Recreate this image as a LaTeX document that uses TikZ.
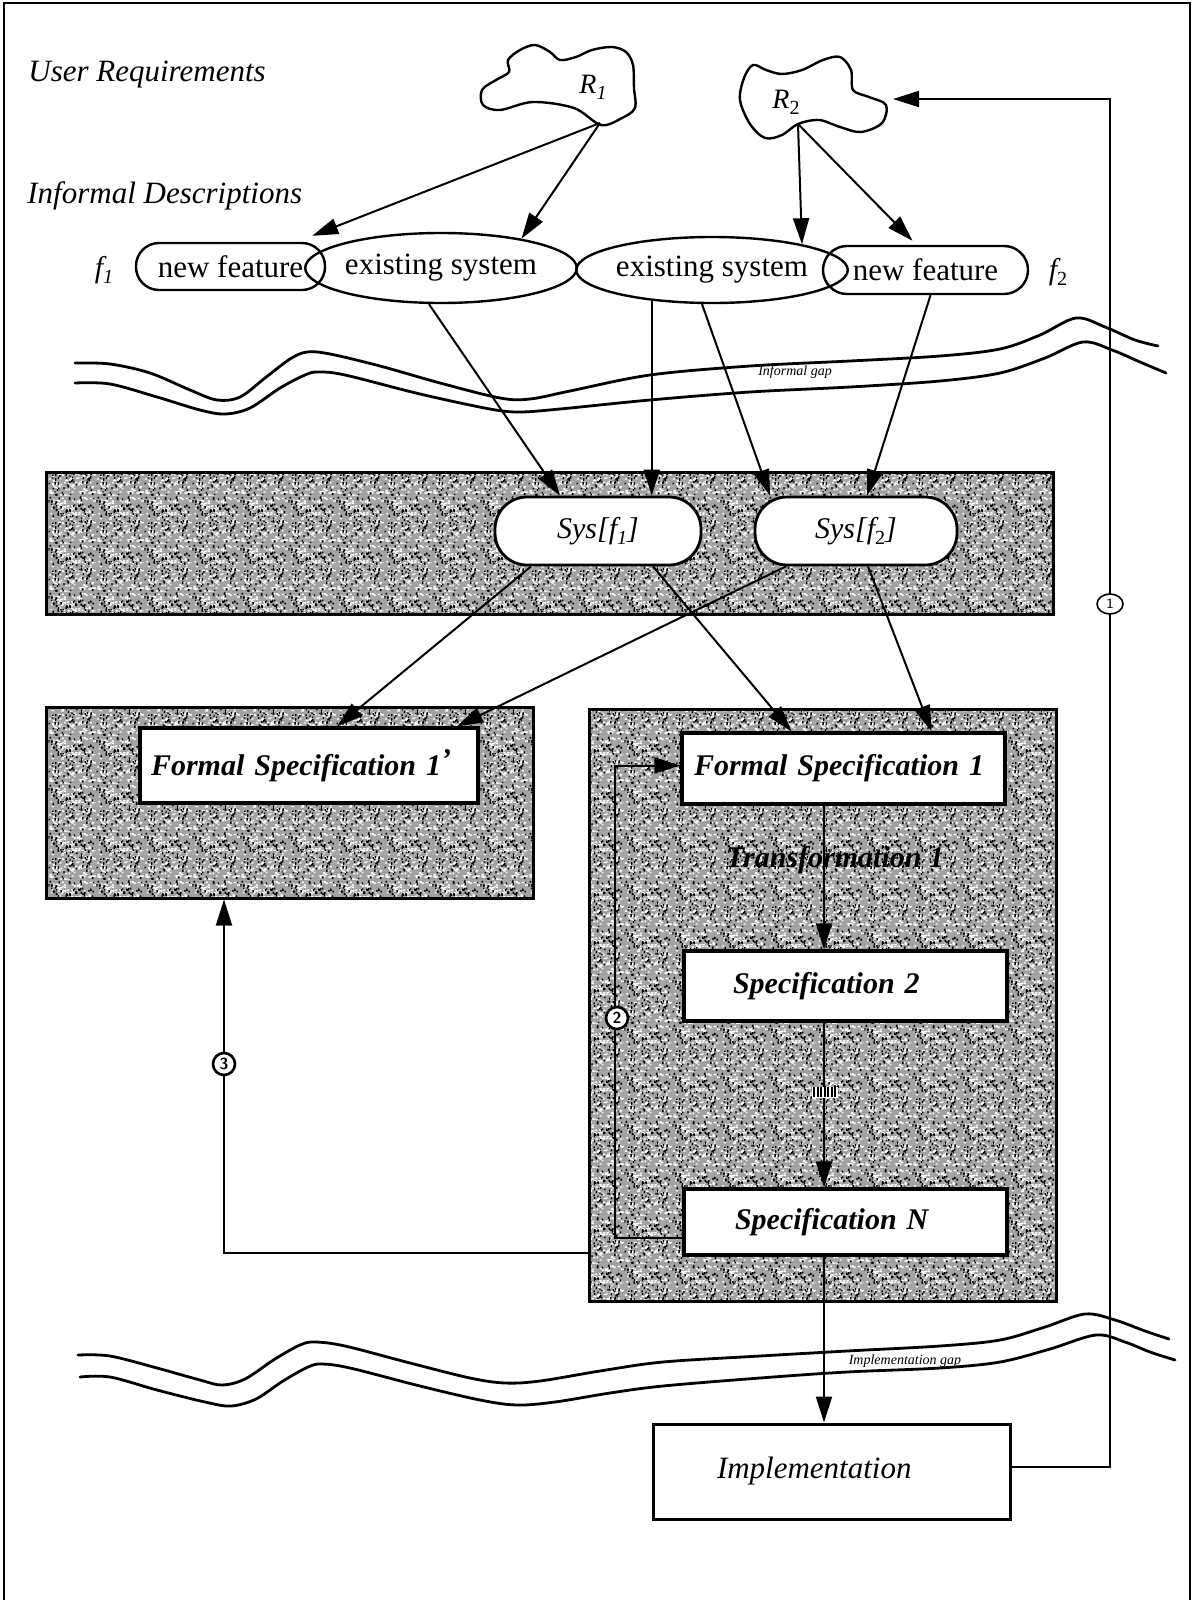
\documentclass[tikz,border=0pt]{standalone}
\usepackage{fontspec}
\setmainfont{Liberation Serif}
\usetikzlibrary{arrows.meta,calc,shapes.geometric,patterns.meta}

% grainy screen used for the grouping panels
\pgfdeclarepattern{
  name=grain,
  type=colored,
  bottom left={\pgfpoint{0pt}{0pt}},
  top right={\pgfpoint{24pt}{24pt}},
  tile size={\pgfpoint{24pt}{24pt}},
  code={
    \pgfmathsetseed{4711}
    \pgfsetcolor{white}
    \foreach \k in {1,...,200}{
      \pgfmathsetmacro\gx{rnd*23}
      \pgfmathsetmacro\gy{rnd*23.3}
      \pgfmathsetmacro\gw{0.6+rnd*0.8}
      \pgfpathrectangle{\pgfpoint{\gx pt}{\gy pt}}{\pgfpoint{\gw pt}{0.7pt}}
      \pgfusepath{fill}
    }
    \pgfsetcolor{black}
    \foreach \k in {1,...,120}{
      \pgfmathsetmacro\gx{rnd*23}
      \pgfmathsetmacro\gy{rnd*23.3}
      \pgfmathsetmacro\gw{0.6+rnd*0.8}
      \pgfpathrectangle{\pgfpoint{\gx pt}{\gy pt}}{\pgfpoint{0.7pt}{\gw pt}}
      \pgfusepath{fill}
    }
  }
}

\newcommand{\lowsub}[1]{\raisebox{-0.45ex}{\fontsize{10}{10}\selectfont #1}}

\tikzset{
  conn/.style={line width=1pt, -{Triangle[length=13pt,width=8pt]}},
  panel/.style={draw, line width=1.5pt, fill=black!36, inner sep=0pt,
    postaction={pattern=grain}, postaction={draw, line width=1.5pt}},
  specbox/.style={draw, line width=1.6pt, fill=white, inner ysep=0pt, align=left,
    font=\bfseries\itshape\fontsize{15}{18}\selectfont},
  featbox/.style={draw, line width=1.2pt, rounded corners=11.5pt, inner sep=0pt,
    font=\fontsize{15.5}{18}\selectfont},
  sysell/.style={draw, ellipse, line width=1.2pt, inner sep=0pt,
    font=\fontsize{15.5}{18}\selectfont},
  sysbox/.style={draw, line width=1.4pt, fill=white, rounded corners=16pt, inner sep=0pt,
    font=\itshape\fontsize{15}{18}\selectfont},
  cloud/.style={line width=1.2pt},
  wave/.style={line width=1.4pt, line cap=round},
  heading/.style={font=\itshape\fontsize{15.5}{18}\selectfont, inner sep=0pt},
  gaplabel/.style={font=\itshape\fontsize{7}{8}\selectfont, inner sep=0pt},
  circnum/.style={circle, draw, line width=1.3pt, fill=white, inner sep=0pt,
    minimum size=11pt, font=\sffamily\bfseries\fontsize{8}{8}\selectfont},
}

\begin{document}
\begin{tikzpicture}[x=0.5pt,y=-0.5pt]
\useasboundingbox (0,0) rectangle (1193,1600);

% page frame
\draw[line width=1pt] (4,1600) -- (4,3) -- (1190,3) -- (1190,1600);

% headings
\node[heading, anchor=base west] (hdreq) at (28,82) {User Requirements};
\node[heading, anchor=base west] (hdinf) at (27,203) {Informal Descriptions};

% requirement clouds
\draw[cloud] plot[smooth cycle, tension=0.55] coordinates {
  (601,125) (574,108) (533,102) (500,110) (483,105) (482,90) (496,80) (509,72)
  (508,60) (520,50) (535,45) (550,52) (560,60) (576,57) (592,50) (612,47)
  (626,52) (633,65) (634,88) (635,108) (622,118)};
\coordinate (r1tip) at (600,123);
\node[font=\itshape\fontsize{14}{16}\selectfont, inner sep=0pt] (r1) at (593,87) {R\lowsub{\itshape 1}};

\draw[cloud] plot[smooth cycle, tension=0.55] coordinates {
  (798,124) (782,135) (765,138) (750,124) (740,100) (744,78) (753,65) (766,70)
  (782,74) (802,70) (823,60) (840,57) (851,70) (853,90) (869,97) (886,105)
  (882,123) (861,132) (840,127) (819,120)};
\coordinate (r2tip) at (798,124);
\coordinate (r2east) at (893,99);
\node[font=\itshape\fontsize{14}{16}\selectfont, inner sep=0pt] (r2) at (786,102) {R\lowsub{\upshape 2}};

% informal descriptions
\node[font=\itshape\fontsize{15}{18}\selectfont, inner sep=0pt] (f1) at (104,270) {f\lowsub{\itshape 1}};
\node[featbox, minimum width=94.5pt, minimum height=23.5pt] (nfL) at (230.5,266.5) {new feature};
\node[sysell, minimum width=131pt, minimum height=35pt] (esL) at (441,268) {existing system};
\node[sysell, minimum width=129pt, minimum height=33pt] (esR) at (712,270) {existing system};
\node[featbox, rounded corners=12pt, minimum width=102.5pt, minimum height=24pt] (nfR) at (925.5,270) {new feature};
\node[font=\itshape\fontsize{15}{18}\selectfont, inner sep=0pt] (f2) at (1058,272) {f\lowsub{\upshape 2}};

% informal gap
\draw[wave] plot[smooth, tension=0.55] coordinates {
  (75,363) (110,364) (150,373) (190,390) (217,400) (240,397) (265,378) (290,359)
  (307,352) (330,354) (380,366) (440,383) (500,398) (530,399) (570,391) (650,375)
  (750,366) (850,361) (940,356) (1000,349) (1040,335) (1076,318) (1105,327)
  (1135,340) (1158,346)};
\draw[wave] plot[smooth, tension=0.55] coordinates {
  (75,383) (110,384) (157,397) (200,410) (225,414) (250,408) (280,388) (305,375)
  (318,372) (345,375) (420,394) (490,409) (520,412) (560,409) (650,400) (750,392)
  (850,387) (940,381) (1000,373) (1045,358) (1083,342) (1112,350) (1140,362)
  (1166,373)};
\node[gaplabel] (infgap) at (795,372) {Informal gap};

% grouping panels
\node[panel, minimum width=503.5pt, minimum height=71pt] (sysband) at (549.5,543) {};
\node[panel, minimum width=243.5pt, minimum height=95.5pt] (leftband) at (289.5,802.5) {};
\node[panel, minimum width=233.5pt, minimum height=296pt] (rightband) at (822.5,1005) {};

% system views
\node[sysbox, minimum width=103pt, minimum height=34pt] (sys1) at (598,531) {Sys[f\lowsub{\itshape 1}]};
\node[sysbox, minimum width=101pt, minimum height=34pt] (sys2) at (856,531) {Sys[f\lowsub{\upshape 2}]};

% specifications
\node[specbox, text width=158pt, inner xsep=5.5pt, minimum height=37.5pt] (fs1p) at (309,765.5)
  {Formal Specification 1\raisebox{0.45ex}{’}};
\node[specbox, text width=149.5pt, inner xsep=6pt, minimum height=35.5pt] (fs1) at (843.5,768.5)
  {Formal Specification 1};
\node[specbox, text width=112.5pt, inner xsep=24.5pt, minimum height=35pt] (spec2) at (845.5,986)
  {Specification 2};
\node[specbox, text width=110.5pt, inner xsep=25.5pt, minimum height=33pt] (specN) at (845.5,1222)
  {Specification N};

% implementation gap
\draw[wave] plot[smooth, tension=0.55] coordinates {
  (78,1355) (110,1356) (157,1368) (200,1380) (222,1385) (245,1379) (275,1359)
  (300,1345) (315,1342) (345,1346) (410,1363) (470,1378) (505,1383) (540,1381)
  (600,1371) (663,1362) (760,1356) (847,1351) (940,1346) (1000,1340) (1045,1327)
  (1085,1314) (1115,1320) (1145,1331) (1169,1339)};
\draw[wave] plot[smooth, tension=0.55] coordinates {
  (80,1377) (110,1377) (157,1390) (205,1402) (231,1406) (256,1399) (283,1381)
  (308,1367) (322,1364) (350,1368) (420,1386) (480,1400) (517,1405) (555,1402)
  (610,1393) (663,1386) (760,1378) (847,1372) (940,1368) (1000,1362) (1050,1349)
  (1096,1335) (1125,1342) (1150,1352) (1175,1360)};
\node[gaplabel] (impgap) at (905,1361) {Implementation gap};

\node[draw, line width=1.5pt, fill=white, align=left, text width=114.5pt, inner xsep=32pt,
  inner ysep=0pt, minimum height=47.5pt, font=\itshape\fontsize{15.5}{18}\selectfont]
  (impl) at (831.5,1471.5) {Implementation};

% requirements to informal descriptions
\draw[conn] (r1tip) -- ($(nfL.north east)+(-14,-6)$);
\draw[conn] (r1tip) -- (esL.20);
\draw[conn] (r2tip) -- (esR.16);
\draw[conn] (r2tip) -- ($(nfR.north)+(-13,-4)$);

% informal descriptions to system views
\draw[conn] ($(esL.south)+(-12,0)$) -- ($(sys1.north)+(-38,0)$);
\draw[conn] (esR.-153) -- (esR.-153 |- sys1.north);
\draw[conn] ($(esR.south)+(-10,0)$) -- ($(sys2.north)+(-86,0)$);
\draw[conn] ($(nfR.south)+(5,0)$) -- ($(sys2.north)+(11,0)$);

% system views to formal specifications
\draw[conn] ($(sys1.south)+(-67,0)$) -- ($(fs1p.north)+(28,0)$);
\draw[conn] ($(sys1.south)+(55,0)$) -- ($(fs1.north)+(-52,0)$);
\draw[conn] ($(sys2.south)+(-70,0)$) -- ($(fs1p.north)+(148,0)$);
\draw[conn] ($(sys2.south)+(12,0)$) -- ($(fs1.north)+(88,0)$);

% transformation chain
\draw[conn] ($(fs1.south)+(-19.5,0)$) -- ($(spec2.north)+(-21.5,0)$);
\node[font=\bfseries\itshape\fontsize{15}{18}\selectfont, inner sep=0pt] (trans) at (835,860) {Transformation 1};
\draw[conn] ($(spec2.south)+(-21.5,0)$) -- ($(specN.north)+(-21.5,0)$);
\node[fill=white, inner sep=0pt, minimum width=13pt, minimum height=5.5pt] (gapmark) at (825,1092) {};
\foreach \k in {0,...,6}
  \draw[line width=0.9pt] ($(gapmark.west)+(2.5+3.5*\k,-5)$) -- ++(0,10);
\draw[conn] ($(specN.south)+(-21.5,0)$) -- ($(impl.north)+(-7.5,0)$);

% feedback loops
\draw[conn] ($(specN.west)+(0,16)$) -| ($(fs1.west)+(-65,-3)$) -- ($(fs1.west)+(0,-3)$);
\draw[conn] ($(rightband.west)+(0,248)$) -| ($(leftband.south)+(-65.5,0)$);
\coordinate (fbturn) at (1110,99);
\draw[conn] ($(impl.east)+(0,-5)$) -| (fbturn) -- (r2east);

% loop numbers
\node[ellipse, draw, line width=0.8pt, fill=white, inner sep=0pt, minimum width=13pt,
  minimum height=10pt, font=\sffamily\fontsize{7}{7}\selectfont] (n1) at (1110,604) {1};
\node[circnum] (n2) at (617,1018) {2};
\node[circnum] (n3) at (224,1064) {3};
\end{tikzpicture}
\end{document}
